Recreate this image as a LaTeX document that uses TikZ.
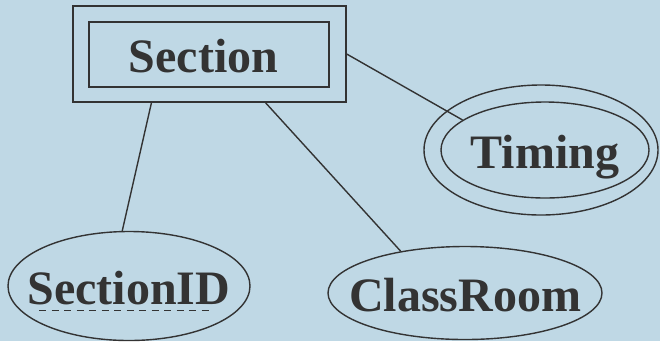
\documentclass[tikz,border=0pt]{standalone}
\usepackage{fontspec}
\setmainfont{Liberation Serif}
\usetikzlibrary{shapes.geometric}

\definecolor{bgblue}{RGB}{191,216,229}
\definecolor{ink}{RGB}{51,51,51}

\begin{document}
\begin{tikzpicture}[
    x=1pt, y=-1pt,
    font=\bfseries\fontsize{48}{56}\selectfont,
    entity/.style={rectangle, draw=ink, line width=1.4pt, text=ink, text height=36pt, text depth=0pt},
    attr/.style={ellipse, draw=ink, line width=1.4pt, inner sep=0pt, text=ink, text height=36pt, text depth=0pt},
    link/.style={draw=ink, line width=1.4pt}
]
    % === Background ===
    \fill[bgblue] (0, 0) rectangle (660, 341);
    \useasboundingbox (0, 0) rectangle (660, 341);

    % === Weak entity ===
    \node[entity, minimum width=273pt, minimum height=96pt] (section) at (209.5, 54) {};
    \node[entity, minimum width=240pt, minimum height=65pt] (sectionin) at (209, 54.5) {\makebox[0pt]{\hspace*{-11pt}Section}};

    % === Attributes ===
    % multivalued
    \node[attr, minimum width=234pt, minimum height=130pt] (timing) at (541, 150) {};
    \node[attr, minimum width=208pt, minimum height=96pt] (timingin) at (545, 150) {\makebox[0pt]{Timing}};
    % partial key
    \node[attr, minimum width=242pt, minimum height=109pt] (sid) at (129, 286) {\makebox[0pt]{SectionID}};
    \draw[ink, line width=1pt, dash pattern=on 7pt off 5.5pt]
        ([xshift=-90pt, yshift=-24pt]sid.center) -- ([xshift=83pt, yshift=-24pt]sid.center);
    % simple
    \node[attr, minimum width=274pt, minimum height=93pt] (room) at (465, 293) {\makebox[0pt]{ClassRoom}};

    % === Links ===
    \draw[link] (section.east) -- (timingin.160);
    \draw[link] (section.220) -- (sid.97);
    \draw[link] (section.319) -- (room.147);
\end{tikzpicture}
\end{document}
